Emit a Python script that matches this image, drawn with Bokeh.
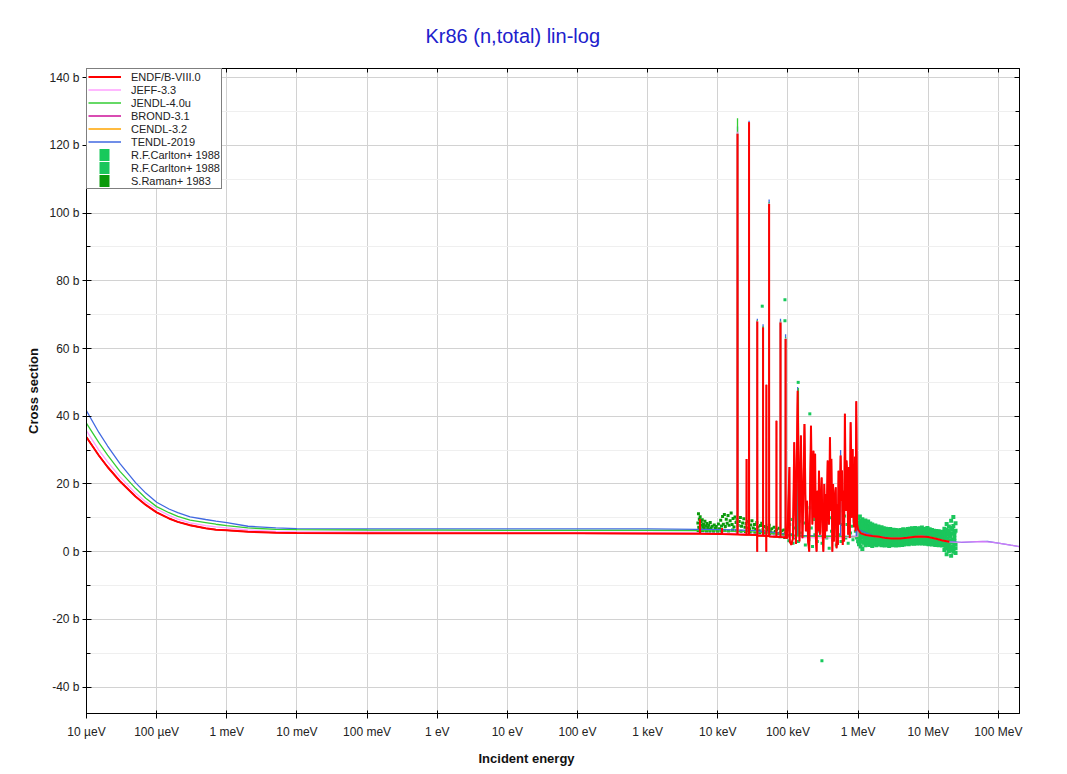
import json
from bokeh.plotting import figure
from bokeh.models import (ColumnDataSource, FixedTicker, CustomJSTickFormatter, LinearAxis,
                          LogAxis, Legend, LegendItem, Title)
from bokeh.embed import file_html
from bokeh.resources import INLINE

FONT = "Liberation Sans"

# ---------------- axes ----------------
X_TICKS = [1e-5, 1e-4, 1e-3, 1e-2, 1e-1, 1e0, 1e1, 1e2, 1e3, 1e4, 1e5, 1e6, 1e7, 1e8]
X_TICK_LABELS = ["10 µeV", "100 µeV", "1 meV", "10 meV", "100 meV", "1 eV", "10 eV", "100 eV",
                 "1 keV", "10 keV", "100 keV", "1 MeV", "10 MeV", "100 MeV"]
Y_TICKS = [-40, -20, 0, 20, 40, 60, 80, 100, 120, 140]
Y_MINOR = [-40, -30, -20, -10, 0, 10, 20, 30, 40, 50, 60, 70, 80, 90, 100, 110, 120, 130, 140]

# ---------------- evaluated data ----------------
# low-energy grid (eV)
LOW_E = [1e-5, 1.5e-5, 2e-5, 3e-5, 5e-5, 7e-5, 1e-4, 1.5e-4, 2e-4, 3e-4, 5e-4, 7e-4,
         1e-3, 2e-3, 5e-3, 1e-2, 0.1, 1, 10, 100, 1000]

ENDF_LOW = [33.8, 28.4, 25.0, 20.8, 16.3, 13.8, 11.6, 9.8, 8.8, 7.8, 6.9, 6.5,
            6.3, 5.9, 5.6, 5.5, 5.45, 5.4, 5.4, 5.4, 5.35]
ENDF_RES_KEV = [5.4, 5.55, 5.57, 5.59, 11.45, 11.5, 11.55, 15.0,
                19.05, 19.1, 19.15, 25.65, 25.7, 25.75, 27.85, 27.9, 27.95,
                36.4, 36.5, 36.6, 36.7, 44.15, 44.2, 44.25,
                49.1, 49.2, 49.3, 49.4, 53.85, 53.9, 53.95,
                68.55, 68.6, 68.65, 78.25, 78.3, 78.35, 92.4, 92.5, 92.6,
                98, 105, 106, 112, 118, 123, 130, 137.5, 146, 153,
                161, 167, 172, 180, 187, 194, 201, 207, 213, 223,
                231, 238, 244, 250, 256, 263, 270, 277, 285, 292,
                302, 311, 320, 330, 338, 345, 356, 368, 376, 385,
                397, 410, 416, 430, 440, 452, 466, 480, 493, 505,
                515, 526, 535, 544, 563, 580, 590, 603, 620, 632,
                648, 670, 684, 700, 722, 740, 760, 782, 795, 808,
                836, 850, 873, 900, 920, 943, 967, 1000]
ENDF_RES_XS = [5.3, 5.3, 9.6, 5.3, 5.2, 7.0, 5.2, 5.15,
               5.1, 123.4, 5.1, 5.0, 27.4, 5.0, 5.0, 126.8, 5.0,
               4.9, 0.0, 68.0, 4.8, 4.7, 66.2, 4.7,
               4.6, 0.0, 49.3, 4.6, 4.6, 102.7, 4.5,
               4.4, 38.7, 4.4, 4.3, 67.7, 4.3, 4.2, 62.8, 4.1,
               4.0, 25.0, 3.0, 2.0, 4.0, 32.3, 2.3, 47.5, 3.0, 34.3,
               4.0, 20.0, 37.7, 6.0, 15.0, 3.0, 0.0, 18.0, 37.2, 8.0,
               29.8, 10.0, 28.9, 4.0, 0.0, 18.0, 6.0, 23.9, 5.0, 12.0,
               21.9, 6.0, 0.0, 20.0, 4.0, 17.0, 6.0, 26.9, 12.0, 8.0,
               33.8, 12.0, 27.4, 0.0, 20.0, 3.0, 16.0, 19.0, 1.0, 14.0,
               2.0, 23.9, 20.0, 8.0, 28.4, 15.0, 24.0, 2.0, 18.0, 3.0,
               40.7, 12.0, 26.9, 22.0, 5.0, 25.0, 4.0, 38.2, 30.0, 10.0,
               30.3, 12.0, 7.2, 28.0, 6.0, 44.4, 8.2, 6.5]
ENDF_HIGH_MEV = [1.1, 1.3, 1.6, 2.0, 2.5, 3.0, 4.0, 5.0, 6.5, 8.0, 10.0, 13.0, 16.0, 20.0]
ENDF_HIGH_XS = [5.4, 4.9, 4.6, 4.4, 4.0, 3.9, 3.9, 4.1, 4.4, 4.5, 4.3, 3.8, 3.3, 2.9]

JEFF_LOW = [35.7, 30.0, 26.5, 22.1, 17.3, 14.7, 12.6, 10.7, 9.6, 8.5, 7.7, 7.3,
            7.0, 6.4, 6.0, 5.85, 5.8, 5.75, 5.7, 5.7, 5.7]
JEFF_RES_KEV = [5, 19.05, 19.1, 19.15, 27.85, 27.9, 27.95, 36.4, 36.5, 36.6, 36.7, 53.85, 53.9, 53.95,
                78.25, 78.3, 78.35, 92.4, 92.5, 92.6, 120, 500, 990, 1000]
JEFF_RES_XS = [5.6, 5.4, 124.0, 5.4, 5.3, 126.5, 5.3, 5.2, 0.5, 68.2, 5.1, 4.9, 103.0, 4.9,
               4.7, 68.0, 4.7, 4.5, 63.0, 4.4, 4.2, 4.0, 4.5, 6.4]
JEFF_HIGH_MEV = [1.1, 1.3, 1.6, 2, 2.5, 3, 4, 5, 6.5, 8, 10, 13, 16, 20, 25, 30, 40, 60, 80, 100, 150, 200]
JEFF_HIGH_XS = [5.5, 5.0, 4.6, 4.35, 4.05, 3.95, 3.95, 4.15, 4.45, 4.55, 4.35, 3.85, 3.35, 2.9,
                2.75, 2.8, 2.9, 3.0, 2.8, 2.5, 1.9, 1.5]

JENDL_LOW = [37.9, 32.2, 28.5, 23.7, 18.7, 15.8, 13.3, 11.5, 10.4, 9.3, 8.6, 8.1,
             7.7, 7.0, 6.6, 6.5, 6.4, 6.35, 6.3, 6.3, 6.3]
JENDL_RES_KEV = [5, 19.05, 19.1, 19.15, 27.85, 27.9, 27.95, 36.4, 36.5, 36.6, 36.7, 44.15, 44.2, 44.25,
                 53.85, 53.9, 53.95, 78.25, 78.3, 78.35, 92.4, 92.5, 92.6, 140, 141, 142, 990, 1000]
JENDL_RES_XS = [6.2, 6.0, 128.0, 6.0, 5.9, 126.6, 5.9, 5.8, 0.8, 68.4, 5.7, 5.6, 66.6, 5.6,
                5.5, 103.2, 5.5, 5.1, 68.2, 5.1, 4.9, 63.3, 4.9, 4.6, 48.3, 4.6, 4.4, 6.5]
JENDL_HIGH_MEV = [1.1, 1.3, 1.6, 2, 2.5, 3, 4, 5, 6.5, 8, 10, 13, 16, 20]
JENDL_HIGH_XS = [5.6, 5.0, 4.7, 4.4, 4.1, 4.0, 4.0, 4.2, 4.5, 4.6, 4.4, 3.9, 3.4, 3.0]

TENDL_LOW = [41.6, 35.2, 31.2, 26.0, 20.4, 17.3, 14.6, 12.6, 11.5, 10.3, 9.5, 9.0,
             8.6, 7.5, 7.0, 6.8, 6.75, 6.7, 6.7, 6.7, 6.7]
TENDL_RES_KEV = [5, 19.05, 19.1, 19.15, 27.85, 27.9, 27.95, 36.4, 36.5, 36.6, 36.7, 44.15, 44.2, 44.25,
                 53.85, 53.9, 53.95, 78.25, 78.3, 78.35, 92.4, 92.5, 92.6, 137, 137.5, 138,
                 562, 563, 564, 942, 943, 944, 1000]
TENDL_RES_XS = [6.6, 6.4, 125.6, 6.4, 6.3, 127.3, 6.3, 6.2, 1.2, 68.8, 6.1, 6.0, 67.2, 6.0,
                5.8, 104.0, 5.8, 5.4, 68.8, 5.4, 5.2, 64.2, 5.1, 4.8, 48.6, 4.8,
                4.5, 30.0, 4.5, 4.5, 44.0, 4.5, 6.6]
TENDL_HIGH_MEV = [1.2, 1.6, 2, 3, 5, 8, 10, 15, 20, 30, 50, 70, 100, 150, 200]
TENDL_HIGH_XS = [5.8, 4.8, 4.45, 4.0, 4.2, 4.6, 4.4, 3.5, 2.95, 2.75, 2.95, 3.0, 2.5, 1.9, 1.5]

# ---------------- experimental data ----------------
RAMAN_KEV = [5.2, 5.3, 5.35, 5.45, 5.5, 5.6, 5.7, 5.8, 5.9, 6.0, 6.1, 6.25, 6.4, 6.55, 6.7, 6.85,
             7.0, 7.2, 7.4, 7.6, 7.8, 8.0, 8.3, 8.6, 8.9, 9.2, 9.5, 9.8, 10.2, 10.6, 11.0, 11.3,
             11.7, 12.0, 12.4, 12.8, 13.2, 13.6, 14.0, 14.5, 15.0, 15.5, 16.0, 16.5, 17.0, 17.6,
             18.2, 18.8, 19.5, 20.2, 21.0, 21.8, 22.6, 23.5, 24.4, 25.3, 26.3, 27.3, 28.4, 29.5,
             30.7, 32.0, 33.3, 34.7, 36.0, 37.5, 39.0, 40.6, 42.3, 44.0, 45.8, 47.7, 49.7, 51.8,
             54.0, 56.2, 58.6, 61.0, 63.5, 66.1, 68.9, 71.7, 74.7, 77.8, 81.0, 84.3, 87.8, 91.5,
             95.3, 99.2,
             5.25, 5.65, 6.15, 6.9, 7.7, 8.7, 9.9, 11.1, 12.6, 14.2, 16.2, 18.5, 21.4, 24.8,
             28.9, 33.8, 39.6, 46.5, 55.0, 65.0, 77.0, 90.0]
RAMAN_XS = [8.5, 11.2, 7.2, 9.6, 6.8, 10.3, 7.9, 8.8, 6.5, 9.4, 7.4, 8.1, 6.9, 9.0, 7.6, 6.4,
            8.3, 7.1, 7.8, 6.6, 8.6, 7.0, 7.5, 6.3, 7.9, 6.9, 7.4, 6.5, 8.2, 6.8, 9.3, 7.6,
            10.4, 8.1, 11.0, 7.4, 9.6, 8.4, 10.7, 7.8, 9.1, 11.4, 8.0, 9.8, 7.3, 10.2,
            8.6, 9.4, 7.7, 8.9, 10.1, 7.5, 8.5, 9.7, 7.2, 8.3, 7.0, 8.9, 6.8, 7.9,
            9.1, 7.0, 8.0, 6.6, 8.6, 7.3, 6.2, 7.7, 8.4, 6.5, 7.4, 5.8, 7.1, 6.3,
            7.8, 5.9, 6.8, 5.5, 7.2, 6.0, 6.5, 5.3, 6.9, 5.6, 6.2, 5.0, 6.4, 5.4,
            5.9, 4.8,
            6.2, 6.0, 6.1, 5.9, 5.8, 5.7, 5.8, 6.0, 6.3, 6.1, 6.4, 6.2, 6.0, 5.9,
            5.6, 5.4, 5.2, 5.0, 4.8, 4.6, 4.4, 4.2]

CARLTON_A_KEV = [100, 103, 106, 110, 114, 118, 122, 126, 131, 136, 141, 146, 152, 158, 164, 170,
                 177, 184, 191, 199, 207, 215, 224, 233, 242, 252, 262, 272, 283, 294, 306, 318,
                 331, 344, 358, 372, 387, 402, 418, 435, 452, 470, 489, 508, 528, 549, 571, 594,
                 618, 642, 668, 694, 722, 751, 781, 812, 845, 879, 914, 951, 989,
                 43, 90.6, 90.6, 140, 205, 305]
CARLTON_A_XS = [6.5, 3.2, 8.0, 5.0, 9.5, 2.5, 7.0, 4.0, 11.0, 6.0, 3.0, 9.0, 5.5, 12.0, 4.5, 8.5,
                2.0, 10.5, 6.5, 3.5, 13.0, 7.0, 1.5, 9.5, 5.0, 11.5, 3.0, 8.0, 6.0, 14.0, 2.5, 9.0,
                5.5, 12.5, 4.0, 8.5, 1.0, 10.0, 6.0, 3.5, 11.0, 7.0, 2.0, 9.0, 5.0, 12.0, 3.0, 8.0,
                6.5, 10.5, 4.0, 8.0, 2.5, 9.5, 5.5, 7.5, 3.5, 9.0, 6.0, 4.0, 7.0,
                72.5, 74.4, 68.2, 50.0, 40.7, -32.2]

CARLTON_B_MEV = [1.00, 1.03, 1.06, 1.09, 1.12, 1.15, 1.19, 1.23, 1.27, 1.31, 1.35,
                 1.39, 1.44, 1.49, 1.54, 1.59, 1.64, 1.70, 1.76, 1.82, 1.88, 1.95, 2.02,
                 2.09, 2.16, 2.24, 2.32, 2.40, 2.49, 2.58, 2.67, 2.77, 2.87, 2.97, 3.08,
                 3.19, 3.31, 3.43, 3.55, 3.68, 3.81, 3.95, 4.10, 4.25, 4.40, 4.56, 4.73,
                 4.90, 5.08, 5.27, 5.46, 5.66, 5.87, 6.08, 6.30, 6.53, 6.77, 7.02,
                 7.28, 7.55, 7.83, 8.12, 8.42, 8.73, 9.05, 9.38, 9.73, 10.1, 10.5, 10.9,
                 11.3, 11.7, 12.1, 12.6, 13.1, 13.6, 14.1, 14.6, 15.2, 15.8, 16.4,
                 17.0, 17.6, 18.3, 19.0, 19.7, 20.4, 21.2, 22.0, 22.8, 23.6, 24.5]
CARLTON_B_HI = [9.8, 8.6, 10.4, 9.1, 8.2, 9.6, 8.8, 7.9, 9.2, 8.4, 7.6,
                8.9, 7.8, 8.3, 7.2, 8.0, 7.5, 6.9, 7.7, 7.1, 6.6, 7.4, 6.8,
                6.5, 7.2, 6.4, 6.9, 6.2, 6.8, 6.1, 6.6, 6.0, 6.7, 6.2, 5.9,
                6.5, 6.0, 6.4, 5.8, 6.3, 6.1, 5.7, 6.4, 6.0, 6.6, 5.9, 6.3,
                6.1, 6.7, 6.2, 6.8, 6.4, 6.9, 6.3, 6.7, 7.0, 6.5, 6.8,
                6.4, 6.9, 6.6, 7.1, 6.3, 6.7, 6.2, 6.8, 7.0, 6.1, 6.6, 6.0,
                6.4, 5.8, 6.2, 5.7, 6.1, 5.6, 6.0, 5.5, 5.9, 5.4, 5.8,
                6.8, 5.6, 8.2, 6.1, 7.4, 5.3, 9.1, 6.5, 10.2, 5.8, 8.4]
CARLTON_B_Q1 = [7.6, 8.0, 7.2, 7.8, 6.9, 8.1, 7.3, 7.0, 7.5, 7.2, 6.6,
                7.1, 6.5, 6.9, 6.2, 6.7, 6.2, 6.0, 6.3, 6.0, 5.7, 6.2, 5.6,
                5.7, 5.9, 5.5, 5.7, 5.3, 5.6, 5.2, 5.4, 5.1, 5.5, 5.2, 5.0,
                5.4, 5.0, 5.3, 4.9, 5.2, 5.0, 4.8, 5.3, 5.0, 5.4, 5.0, 5.2,
                5.3, 5.6, 5.4, 5.7, 5.5, 5.8, 5.4, 5.7, 5.9, 5.5, 5.8,
                5.5, 5.9, 5.6, 6.0, 5.4, 5.8, 5.3, 5.8, 5.9, 5.2, 5.6, 5.1,
                5.3, 5.0, 5.2, 4.9, 5.1, 4.8, 5.0, 4.7, 4.9, 4.6, 4.8,
                5.2, 4.9, 6.4, 5.0, 5.8, 4.7, 7.0, 5.3, 7.6, 5.1, 6.2]
CARLTON_B_MID = [6.2, 7.1, 5.8, 6.6, 5.5, 6.9, 5.9, 6.4, 5.6, 6.1, 5.4,
                 5.9, 5.2, 5.7, 5.0, 5.5, 4.9, 5.3, 4.7, 5.1, 4.6, 5.0, 4.5,
                 4.8, 4.4, 4.7, 4.2, 4.6, 4.1, 4.5, 4.0, 4.4, 3.9, 4.3, 4.0,
                 4.2, 3.8, 4.3, 3.9, 4.1, 3.7, 4.2, 3.9, 4.4, 4.0, 4.3, 4.1,
                 4.5, 4.2, 4.6, 4.3, 4.8, 4.4, 4.7, 4.5, 4.9, 4.6, 4.8,
                 4.7, 4.9, 4.5, 4.8, 4.4, 4.7, 4.3, 4.6, 4.2, 4.5, 4.1, 4.4,
                 4.0, 4.3, 3.9, 4.2, 3.8, 4.1, 3.7, 4.0, 3.6, 3.9, 3.5,
                 3.4, 4.2, 2.6, 3.8, 1.9, 4.5, 2.8, 3.6, 1.2, 4.0, 2.2]
CARLTON_B_Q3 = [4.6, 5.0, 4.3, 4.9, 4.1, 4.7, 4.4, 4.8, 3.9, 4.5, 3.8,
                4.3, 3.8, 4.2, 3.7, 3.9, 3.6, 3.9, 3.5, 3.7, 3.4, 3.7, 3.3,
                3.5, 3.2, 3.5, 3.1, 3.3, 3.0, 3.3, 3.0, 3.2, 2.9, 3.2, 3.0,
                3.1, 2.9, 3.2, 2.9, 3.1, 2.8, 3.2, 3.0, 3.2, 3.0, 3.2, 3.1,
                3.3, 3.1, 3.4, 3.2, 3.5, 3.3, 3.5, 3.3, 3.6, 3.4, 3.5,
                3.5, 3.6, 3.4, 3.6, 3.3, 3.5, 3.2, 3.5, 3.2, 3.3, 3.1, 3.3,
                3.0, 3.2, 2.9, 3.1, 2.8, 3.0, 2.7, 3.0, 2.7, 2.9, 2.6,
                2.0, 3.0, 0.9, 2.8, 1.1, 3.3, 0.6, 2.6, 0.4, 3.1, 1.0]
CARLTON_B_LO = [3.1, 2.2, 3.8, 1.5, 2.9, 0.8, 2.6, 3.4, 1.9, 2.7, 2.3,
                2.8, 2.0, 3.0, 2.4, 1.7, 2.9, 2.2, 2.6, 1.9, 2.5, 2.1, 2.7,
                2.3, 1.9, 2.6, 2.1, 1.8, 2.4, 2.0, 2.5, 1.7, 2.2, 1.9, 2.4,
                2.0, 2.3, 1.8, 2.5, 2.1, 1.9, 2.6, 2.2, 2.0, 2.4, 2.1, 2.5,
                2.3, 2.7, 2.2, 2.6, 2.4, 2.8, 2.5, 2.3, 2.9, 2.6, 2.4,
                2.7, 2.5, 2.9, 2.4, 2.8, 2.6, 2.3, 2.7, 2.5, 2.2, 2.6, 2.4,
                2.1, 2.5, 2.3, 2.0, 2.4, 2.2, 1.9, 2.3, 2.1, 1.8, 2.2,
                0.5, 1.6, -0.8, 2.0, 0.2, 1.1, -1.2, 1.4, 0.0, 2.3, -0.4]

COLORS = {"ENDF": "#ff0000", "JEFF": "#ff80ff", "JENDL": "#33cc33", "BROND": "#cc1199",
          "CENDL": "#ffa500", "TENDL": "#4169e1",
          "CARLTON_A": "#17c95b", "CARLTON_B": "#1bc65c", "RAMAN": "#0c9a0c"}


def curve(low, res_kev, res_xs, high_mev, high_xs):
    e = list(LOW_E) + [k * 1e3 for k in res_kev] + [m * 1e6 for m in high_mev]
    s = list(low) + list(res_xs) + list(high_xs)
    return ColumnDataSource(dict(e=e, s=s))


p = figure(width=1044, height=772, x_axis_type="log", x_range=(1e-5, 2e8), y_range=(-47.8, 142.7),
           output_backend="svg", toolbar_location=None, tools="",
           min_border_left=86, min_border_right=25, min_border_top=68, min_border_bottom=59,
           background_fill_color="white", border_fill_color="white",
           outline_line_color="black", outline_line_width=1)

p.title.text = "Kr86 (n,total) lin-log"
p.title.align = "left"
p.title.offset = 339
p.title.text_font = FONT
p.title.text_font_size = "20px"
p.title.text_font_style = "normal"
p.title.text_color = "#2020cc"
p.title.standoff = 44

# x axis
xa = p.xaxis[0]
xa.ticker = FixedTicker(ticks=X_TICKS, minor_ticks=[])
xa.formatter = CustomJSTickFormatter(
    code="const labels = %s; const i = Math.round(Math.log10(tick)) + 5; return labels[i] || '';"
    % json.dumps(X_TICK_LABELS))
xa.major_label_text_font = FONT
xa.major_label_text_font_size = "12px"
xa.major_label_text_color = "#222222"
xa.major_tick_in = 3
xa.major_tick_out = 5
xa.major_label_standoff = 6
xa.axis_line_color = "black"

# y axis
ya = p.yaxis[0]
ya.ticker = FixedTicker(ticks=Y_TICKS, minor_ticks=Y_MINOR)
ya.formatter = CustomJSTickFormatter(code="return tick.toFixed(0) + ' b';")
ya.major_label_text_font = FONT
ya.major_label_text_font_size = "12px"
ya.major_label_text_color = "#222222"
ya.major_tick_in = 5
ya.major_tick_out = 4
ya.minor_tick_in = 4
ya.minor_tick_out = 0
ya.major_label_standoff = 3
ya.axis_label = "Cross section"
ya.axis_label_text_font = FONT
ya.axis_label_text_font_size = "13px"
ya.axis_label_text_font_style = "bold"
ya.axis_label_text_color = "#111111"
ya.axis_label_standoff = 5

# top and right frame ticks (labels hidden)
top = LogAxis(ticker=FixedTicker(ticks=X_TICKS, minor_ticks=[]),
              major_label_text_font_size="1px", major_label_text_alpha=0.0,
              major_tick_in=4, major_tick_out=0, minor_tick_line_color=None,
              major_label_standoff=0)
p.add_layout(top, "above")
right = LinearAxis(ticker=FixedTicker(ticks=Y_TICKS, minor_ticks=Y_MINOR),
                   major_label_text_font_size="1px", major_label_text_alpha=0.0,
                   major_tick_in=5, major_tick_out=0,
                   minor_tick_in=4, minor_tick_out=0, major_label_standoff=0)
p.add_layout(right, "right")

p.add_layout(Title(text="Incident energy", align="left", offset=392, text_font=FONT,
                   text_font_size="13px", text_font_style="bold", text_color="#111111",
                   standoff=14), "below")

# grids
p.xgrid.grid_line_color = "#d2d2d2"
p.ygrid.grid_line_color = "#d2d2d2"
p.ygrid.minor_grid_line_color = "#efefef"

# experimental points (behind curves)
r_raman = p.scatter(x=[k * 1e3 for k in RAMAN_KEV], y=RAMAN_XS, marker="square", size=3,
                    color=COLORS["RAMAN"], line_color=None)
r_ca = p.scatter(x=[k * 1e3 for k in CARLTON_A_KEV], y=CARLTON_A_XS, marker="square", size=3,
                 color=COLORS["CARLTON_A"], line_color=None)
for ys in (CARLTON_B_HI, CARLTON_B_Q1, CARLTON_B_MID, CARLTON_B_Q3, CARLTON_B_LO):
    p.scatter(x=[m * 1e6 for m in CARLTON_B_MEV], y=ys, marker="square", size=4,
              color=COLORS["CARLTON_B"], line_color=None)

# evaluated curves
src_tendl = curve(TENDL_LOW, TENDL_RES_KEV, TENDL_RES_XS, TENDL_HIGH_MEV, TENDL_HIGH_XS)
src_jendl = curve(JENDL_LOW, JENDL_RES_KEV, JENDL_RES_XS, JENDL_HIGH_MEV, JENDL_HIGH_XS)
src_jeff = curve(JEFF_LOW, JEFF_RES_KEV, JEFF_RES_XS, JEFF_HIGH_MEV, JEFF_HIGH_XS)
src_endf = curve(ENDF_LOW, ENDF_RES_KEV, ENDF_RES_XS, ENDF_HIGH_MEV, ENDF_HIGH_XS)
# BROND-3.1 and CENDL-3.2 coincide with ENDF/B-VIII.0 on this scale
src_brond = curve(ENDF_LOW, ENDF_RES_KEV, ENDF_RES_XS, ENDF_HIGH_MEV, ENDF_HIGH_XS)
src_cendl = curve(ENDF_LOW, ENDF_RES_KEV, ENDF_RES_XS, ENDF_HIGH_MEV, ENDF_HIGH_XS)

r_tendl = p.line("e", "s", source=src_tendl, color=COLORS["TENDL"], line_width=1.3)
r_cendl = p.line("e", "s", source=src_cendl, color=COLORS["CENDL"], line_width=1.3)
r_brond = p.line("e", "s", source=src_brond, color=COLORS["BROND"], line_width=1.3)
r_jendl = p.line("e", "s", source=src_jendl, color=COLORS["JENDL"], line_width=1.3)
r_jeff = p.line("e", "s", source=src_jeff, color=COLORS["JEFF"], line_width=1.3, line_alpha=0.75)
r_endf = p.line("e", "s", source=src_endf, color=COLORS["ENDF"], line_width=2)


# legend-only swatches: a single-point line (draws nothing in the plot) whose thick
# dashed legend stroke shows as a square
def swatch(color, e0, s0):
    return p.line(x=[e0], y=[s0], line_color=color, line_width=12, line_dash="10 30",
                  line_dash_offset=29)


s_ca = swatch(COLORS["CARLTON_A"], CARLTON_A_KEV[0] * 1e3, CARLTON_A_XS[0])
s_cb = swatch(COLORS["CARLTON_B"], CARLTON_B_MEV[0] * 1e6, CARLTON_B_MID[0])
s_ra = swatch(COLORS["RAMAN"], RAMAN_KEV[0] * 1e3, RAMAN_XS[0])

legend = Legend(items=[
    LegendItem(label="ENDF/B-VIII.0", renderers=[r_endf]),
    LegendItem(label="JEFF-3.3", renderers=[r_jeff]),
    LegendItem(label="JENDL-4.0u", renderers=[r_jendl]),
    LegendItem(label="BROND-3.1", renderers=[r_brond]),
    LegendItem(label="CENDL-3.2", renderers=[r_cendl]),
    LegendItem(label="TENDL-2019", renderers=[r_tendl]),
    LegendItem(label="R.F.Carlton+ 1988", renderers=[s_ca]),
    LegendItem(label="R.F.Carlton+ 1988", renderers=[s_cb]),
    LegendItem(label="S.Raman+ 1983", renderers=[s_ra]),
], location="top_left", margin=0, padding=1, spacing=0,
    glyph_width=33, glyph_height=13, label_height=13, label_standoff=10,
    label_text_font=FONT, label_text_font_size="11px", label_text_color="#222222",
    border_line_color="black", border_line_width=1,
    background_fill_color="white", background_fill_alpha=1.0)
p.add_layout(legend)

open("out.html", "w").write(file_html(p, INLINE))
